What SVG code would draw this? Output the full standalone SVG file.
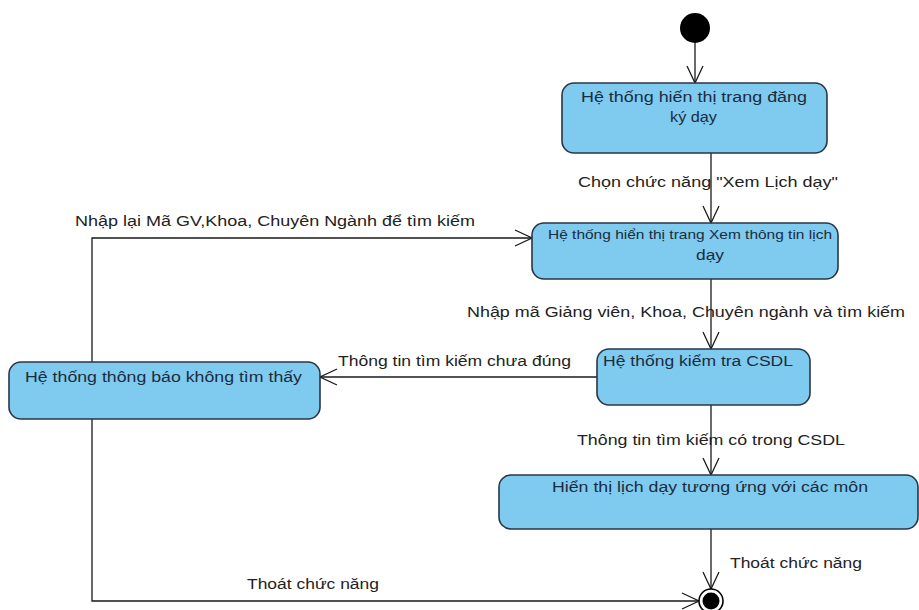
<svg xmlns="http://www.w3.org/2000/svg" width="919" height="610" viewBox="0 0 919 610">
  <style>
    .node rect { fill: #7ecbef; stroke: #2a3645; stroke-width: 1.6; }
    .node text { font-family: "Liberation Sans", Arial, sans-serif; font-size: 14px; fill: #1c2b3e; }
    .node text.small { font-size: 13px; }
    .label { font-family: "Liberation Sans", Arial, sans-serif; font-size: 14px; fill: #222; }
    .edge { fill: none; stroke: #1a1a1a; stroke-width: 1.3; marker-end: url(#arrow); }
  </style>
  <defs>
    <marker id="arrow" markerUnits="userSpaceOnUse" markerWidth="20" markerHeight="20" viewBox="-18 -10 20 20" refX="0" refY="0" orient="auto">
      <path d="M -17 -8 L 0 0 L -17 8" fill="none" stroke="#1a1a1a" stroke-width="1.3"/>
    </marker>
  </defs>
  <rect width="919" height="610" fill="#ffffff"/>

  <!-- connectors -->
  <g id="connectors">
    <path class="edge" d="M 695 43 L 695 83"/>
    <path class="edge" d="M 711 153 L 711 223"/>
    <path class="edge" d="M 711 279 L 711 349"/>
    <path class="edge" d="M 597 377 L 320 377"/>
    <path class="edge" d="M 92 362 L 92 238 L 532 238"/>
    <path class="edge" d="M 711 405 L 711 475"/>
    <path class="edge" d="M 711 529 L 711 589"/>
    <path class="edge" d="M 92 419 L 92 601 L 699 601"/>
    <text class="label" x="578" y="187" textLength="260" lengthAdjust="spacingAndGlyphs">Chọn chức năng "Xem Lịch dạy"</text>
    <text class="label" x="75" y="226" textLength="400" lengthAdjust="spacingAndGlyphs">Nhập lại Mã GV,Khoa, Chuyên Ngành để tìm kiếm</text>
    <text class="label" x="467" y="317" textLength="438" lengthAdjust="spacingAndGlyphs">Nhập mã Giảng viên, Khoa, Chuyên ngành và tìm kiếm</text>
    <text class="label" x="338" y="366" textLength="233" lengthAdjust="spacingAndGlyphs">Thông tin tìm kiếm chưa đúng</text>
    <text class="label" x="577" y="445" textLength="268" lengthAdjust="spacingAndGlyphs">Thông tin tìm kiếm có trong CSDL</text>
    <text class="label" x="730" y="568" textLength="132" lengthAdjust="spacingAndGlyphs">Thoát chức năng</text>
    <text class="label" x="247" y="589" textLength="132" lengthAdjust="spacingAndGlyphs">Thoát chức năng</text>
  </g>

  <!-- start -->
  <g id="start">
    <circle cx="695" cy="28" r="15" fill="#000"/>
  </g>

  <g id="n1" class="node">
    <rect x="562" y="83" width="265" height="70" rx="12"/>
    <text x="581" y="102" textLength="226" lengthAdjust="spacingAndGlyphs">Hệ thống hiến thị trang đăng</text>
    <text x="670" y="122" textLength="47" lengthAdjust="spacingAndGlyphs">ký dạy</text>
  </g>

  <g id="n2" class="node">
    <rect x="532" y="223" width="306" height="56" rx="12"/>
    <text class="small" x="548" y="239" textLength="284" lengthAdjust="spacingAndGlyphs">Hệ thống hiển thị trang Xem thông tin lịch</text>
    <text x="696" y="260" textLength="28" lengthAdjust="spacingAndGlyphs">dạy</text>
  </g>

  <g id="n3" class="node">
    <rect x="597" y="349" width="213" height="56" rx="12"/>
    <text x="603" y="366" textLength="190" lengthAdjust="spacingAndGlyphs">Hệ thống kiểm tra CSDL</text>
  </g>

  <g id="n4" class="node">
    <rect x="9" y="362" width="311" height="57" rx="12"/>
    <text x="25" y="382" textLength="277" lengthAdjust="spacingAndGlyphs">Hệ thống thông báo không tìm thấy</text>
  </g>

  <g id="n5" class="node">
    <rect x="499" y="475" width="419" height="54" rx="12"/>
    <text x="552" y="492" textLength="316" lengthAdjust="spacingAndGlyphs">Hiển thị lịch dạy tương ứng với các môn</text>
  </g>

  <!-- end -->
  <g id="end">
    <circle cx="711" cy="601" r="12" fill="#fff" stroke="#000" stroke-width="1.6"/>
    <circle cx="711" cy="601" r="8.5" fill="#000"/>
  </g>
</svg>
